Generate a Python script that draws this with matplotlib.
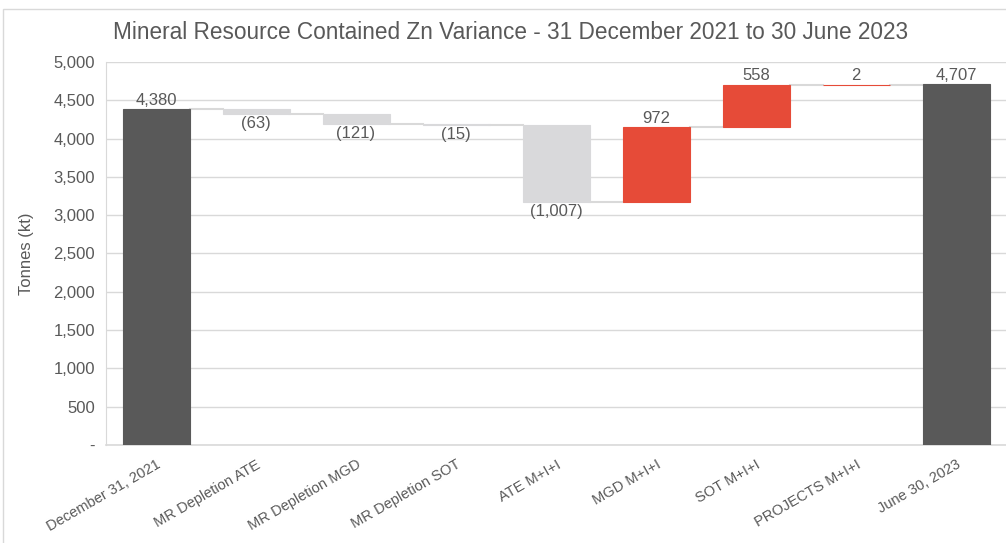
import numpy as np
import matplotlib.pyplot as plt
from matplotlib.patches import Rectangle

plt.rcParams['font.family'] = ['Liberation Sans', 'DejaVu Sans']

categories = ['December 31, 2021', 'MR Depletion ATE', 'MR Depletion MGD',
              'MR Depletion SOT', 'ATE M+I+I', 'MGD M+I+I', 'SOT M+I+I',
              'PROJECTS M+I+I', 'June 30, 2023']
changes = [4380, -63, -121, -15, -1007, 972, 558, 2, 4707]
is_total = [True, False, False, False, False, False, False, False, True]

TOTAL_COLOR = '#595959'
NEG_COLOR = '#d9d9db'
POS_COLOR = '#e64b38'
TEXT_COLOR = '#595959'
GRID_COLOR = '#d9d9d9'

fig = plt.figure(figsize=(10.06, 5.43), dpi=100)
ax = fig.add_axes([0.1054, 0.1805, 0.8946, 0.7053])

# compute bar bottoms / tops
bottoms, heights, colors = [], [], []
level = 0
for val, tot in zip(changes, is_total):
    if tot:
        bottoms.append(0)
        heights.append(val)
        colors.append(TOTAL_COLOR)
        level = val
    else:
        new_level = level + val
        bottoms.append(min(level, new_level))
        heights.append(abs(val))
        colors.append(POS_COLOR if val > 0 else NEG_COLOR)
        level = new_level

x = np.arange(len(categories))
width = 0.67
ax.bar(x, heights, bottom=bottoms, width=width, color=colors,
       edgecolor=colors, linewidth=0.8, zorder=3)

# connector lines
level = 0
for i, (val, tot) in enumerate(zip(changes, is_total)):
    level = val if tot else level + val
    if i < len(categories) - 1:
        ax.plot([i + width / 2, i + 1 - width / 2], [level, level],
                color=GRID_COLOR, lw=1.5, zorder=2)

# value labels
for i, (val, tot) in enumerate(zip(changes, is_total)):
    top = bottoms[i] + heights[i]
    if val >= 0:
        ax.text(i, top + 25, f'{val:,}', ha='center', va='bottom',
                fontsize=12, color=TEXT_COLOR)
    else:
        ax.text(i, bottoms[i] - 25, f'({abs(val):,})', ha='center', va='top',
                fontsize=12, color=TEXT_COLOR)

ax.set_xlim(-0.5, 8.5)
ax.set_ylim(0, 5000)
yt = np.arange(0, 5001, 500)
ax.set_yticks(yt)
ax.set_yticklabels(['-' if v == 0 else f'{v:,}' for v in yt])
ax.set_xticks(x)
ax.set_xticklabels(categories, rotation=30, ha='right', rotation_mode='anchor')
ax.tick_params(axis='both', length=0, labelsize=10.5, colors=TEXT_COLOR)
ax.tick_params(axis='y', labelsize=12, pad=8)
ax.tick_params(axis='x', pad=9)
ax.grid(axis='y', color=GRID_COLOR, lw=1, zorder=0)
ax.axhline(0, color=GRID_COLOR, lw=1.2, zorder=1, clip_on=False)
ax.set_axisbelow(True)
for s in ['top', 'right', 'bottom']:
    ax.spines[s].set_visible(False)
ax.spines['left'].set_color(GRID_COLOR)
ax.set_ylabel('Tonnes (kt)', fontsize=12, color=TEXT_COLOR)
ax.yaxis.set_label_coords(-0.08, 0.5)

fig.text(0.508, 0.94, 'Mineral Resource Contained Zn Variance - 31 December 2021 to 30 June 2023',
         ha='center', va='center', fontsize=16.3, color=TEXT_COLOR)

# outer chart border
fig.patches.append(Rectangle((3 / 1006, -0.05), 1.1, 0.05 + 534 / 543,
                             transform=fig.transFigure, fill=False,
                             edgecolor=GRID_COLOR, lw=1))

fig.savefig('out.png', dpi=100)
